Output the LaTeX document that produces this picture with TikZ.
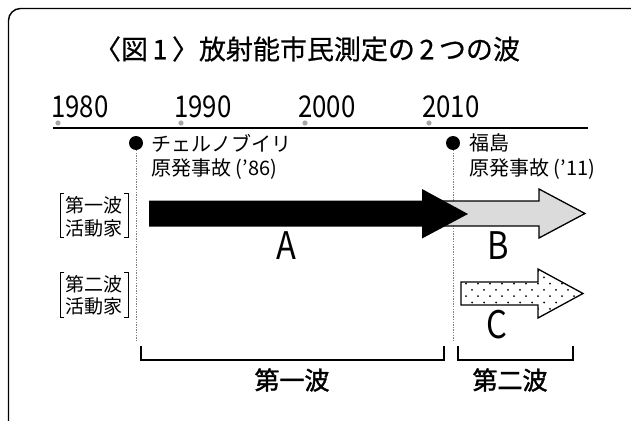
\documentclass[tikz,border=0pt]{standalone}
\usepackage{fontspec}
\setmainfont{Noto Sans CJK JP}
\newfontfamily\condfont{Noto Sans CJK JP}[FakeStretch=0.86]
\newfontfamily\titlefont{Noto Sans CJK JP}[FakeBold=0.6]
\newfontfamily\wavefont{Noto Sans CJK JP}[FakeBold=1.6]
\begin{document}
\begin{tikzpicture}[x=1pt,y=-1pt,
  lbl/.style={inner sep=0pt,font=\fontsize{20}{22}\selectfont},
  yr/.style={inner sep=0pt,font=\condfont\fontsize{30}{30}\selectfont},
  big/.style={inner sep=0pt,font=\condfont\fontsize{38}{38}\selectfont},
  side/.style={inner sep=0pt,align=center,font=\fontsize{19}{22.5}\selectfont},
  wave/.style={inner sep=0pt,font=\wavefont\fontsize{25}{25}\selectfont},
  tick/.style={fill=black!35},
  guide/.style={black!50,line width=1pt,dash pattern=on 1.3pt off 1.3pt},
  brk/.style={line width=0.9pt},
  bbrk/.style={line width=2pt},
]
\useasboundingbox (0,0) rectangle (631,420);
\clip (0,0) rectangle (631,420);
% frame
\draw[line width=1.4pt,rounded corners=12pt] (8.5,440) -- (8.5,8.5) -- (660,8.5);
% title
\node[inner sep=0pt,font=\titlefont\fontsize{27}{27}\selectfont] (title) at (307,49) {〈図\,1\,〉放射能市民測定の\,2\,つの波};
% timeline
\coordinate (tl0) at (53,128);
\coordinate (tl1) at (588,128);
\draw[line width=2pt] (tl0) -- (tl1);
\foreach \x/\y/\n in {58/1980/a,181/1990/b,305/2000/c,429/2010/d}{
  \fill[tick] (\x,123) circle (2.6);
  \node[yr,anchor=base west] (y\n) at (\x-7,117) {\y};
}
% events
\fill (136,143) circle (7);
\fill (453,143) circle (7);
\coordinate (g1t) at (136,150);
\coordinate (g1b) at (136,340);
\coordinate (g2t) at (453,150);
\coordinate (g2b) at (453,340);
\draw[guide] (g1t) -- (g1b);
\draw[guide] (g2t) -- (g2b);
\node[lbl,anchor=west] (ch1) at (151,143) {チェルノブイリ};
\node[lbl,anchor=west] (ch2) at (151,169) {原発事故 ('86)};
\node[lbl,anchor=west] (fk1) at (469,143) {福島};
\node[lbl,anchor=west] (fk2) at (469,169) {原発事故 ('11)};
% side labels
\node[side] (s1a) at (94,205) {第一波};
\node[side] (s1b) at (94,228) {活動家};
\draw[brk] (64,193) -- (60,193) -- (60,237) -- (64,237);
\draw[brk] (124,193) -- (128,193) -- (128,237) -- (124,237);
\node[side] (s2a) at (94,284) {第二波};
\node[side] (s2b) at (94,306) {活動家};
\draw[brk] (64,272) -- (60,272) -- (60,317) -- (64,317);
\draw[brk] (124,272) -- (128,272) -- (128,317) -- (124,317);
% arrow B
\draw[line width=1.3pt,fill=black!14,line join=miter]
  (440,201) -- (539,201) -- (539,189) -- (585,213.5) -- (539,238) -- (539,226) -- (440,226) -- cycle;
% arrow A
\fill (149,200.5) -- (422,200.5) -- (422,189) -- (468,214) -- (422,238.5) -- (422,226.5) -- (149,226.5) -- cycle;
% arrow C
\begin{scope}
\clip (461,282) -- (538,282) -- (538,269) -- (583,293.5) -- (538,318) -- (538,305) -- (461,305) -- cycle;
\foreach \r in {0,...,8}{
  \pgfmathsetmacro\yy{271+\r*6.3}
  \pgfmathsetmacro\off{mod(\r,2)*6}
  \foreach \c in {0,...,11}{
    \fill (466+\off+\c*12,\yy) circle (1.0);
  }
}
\end{scope}
\draw[line width=1.3pt,line join=miter]
  (461,282) -- (538,282) -- (538,269) -- (583,293.5) -- (538,318) -- (538,305) -- (461,305) -- cycle;
% letters
\node[big] (A) at (286,245.5) {A};
\node[big] (B) at (498,245.5) {B};
\node[big] (C) at (497,324.5) {C};
% bottom brackets
\draw[bbrk] (141,346) -- (141,360) -- (444,360) -- (444,346);
\draw[bbrk] (458,346) -- (458,360) -- (573,360) -- (573,346);
\node[wave] (w1) at (292,380) {第一波};
\node[wave] (w2) at (510,380) {第二波};
\end{tikzpicture}
\end{document}
